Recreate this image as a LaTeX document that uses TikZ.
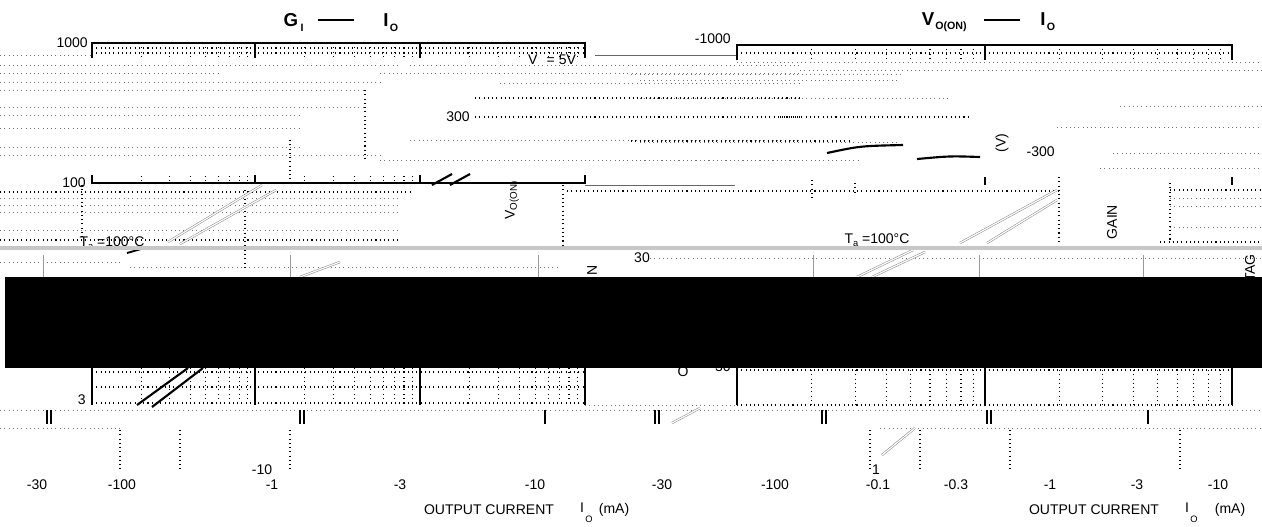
\documentclass[tikz,border=0pt]{standalone}
\usepackage{fontspec}
\setmainfont{Liberation Sans}
\tikzset{
 frm/.style={line width=1.1pt},
 dk/.style={line width=0.8pt, dash pattern=on 0.8pt off 2.4pt},
 fnt/.style={line width=0.5pt, dash pattern=on 0.6pt off 2.6pt, black!55},
 lbl/.style={font=\fontsize{10.5}{12}\selectfont, inner sep=0pt},
 sublbl/.style={font=\fontsize{7}{8}\selectfont, inner sep=0pt},
 ttl/.style={font=\fontsize{14}{16}\selectfont\bfseries, inner sep=0pt},
 ttlsub/.style={font=\fontsize{8}{9}\selectfont\bfseries, inner sep=0pt},
 dbl/.style={draw=black!45, double=white, double distance=0.9pt, line width=0.4pt},
 crv/.style={line width=1.6pt},
}
\newcommand\minorv[5]{\foreach \k in {2,...,9}{\draw[#5] ({#1+#2*ln(\k)/ln(10)},#3) -- ({#1+#2*ln(\k)/ln(10)},#4);}}
\begin{document}
\begin{tikzpicture}[x=0.75pt,y=-0.75pt]
\useasboundingbox (0,0) rectangle (1262,526);
% ---------- titles
\node[ttl] (tG) at (291,20) {G};
\node[ttlsub] (tGs) at (302,28) {I};
\draw[line width=1.3pt] (318,20) -- (354,20);
\node[ttl] (tI) at (386,20) {I};
\node[ttlsub] (tIs) at (394,28) {O};
\node[ttl] (tV) at (928,19) {V};
\node[ttlsub] (tVs) at (951,27) {O(ON)};
\draw[line width=1.3pt] (984,20) -- (1020,20);
\node[ttl] (tI2) at (1043,19) {I};
\node[ttlsub] (tI2s) at (1051,27) {O};
% ---------- faint rows of the glitched middle
\foreach \y/\a/\b in {55/0/92,65/0/400,65/410/800,73/0/220,73/380/800,82/0/380,83/500/800,90/0/365,
  107/0/365,115/0/300,128/0/300,140/410/800,147/0/300,155/0/380,160/380/800,
  62/737/1262,70/800/1262,74/631/900,80/640/900,98/640/950,106/1120/1262,127/1057/1262,
  142/640/900,153/1113/1262,160/640/860,168/1100/1262,
  198/0/400,205/0/400,212/0/400,230/0/400,198/1170/1262,206/1170/1262,227/1170/1262,
  258/650/1262,267/130/560,262/0/120,405/585/737,410/0/1262,428/0/120,428/880/1262}
  {\draw[fnt] (\a,\y) -- (\b,\y);}
\foreach \y/\a/\b in {98/475/800,117/475/800,117/780/970,141/631/850,192/0/410,191/567/1060,190/1170/1262,240/0/400,242/1160/1262}
  {\draw[dk] (\a,\y) -- (\b,\y);}
\draw[line width=0.4pt, black!60] (595,55) -- (737,55);
\draw[line width=0.4pt, black!60] (585,185) -- (735,185);
\foreach \x/\a/\b in {365/90/160,290/140/180,82/185/240,245/190/270,563/185/245,812/180/200,855/183/193,1059/177/245,1170/183/240,
  120/430/470,180/430/470,290/430/470,870/430/470,920/430/470,1010/430/470,1180/430/470}
  {\draw[dk] (\x,\a) -- (\x,\b);}
\foreach \x in {43,290,538,813,979,1143}{\draw[line width=0.5pt, black!40] (\x,255) -- (\x,277);}
% ---------- left top strip
\draw[frm] (92,58) -- (92,43) -- (585,43) -- (585,58);
\draw[frm] (255,43) -- (255,58) (420,43) -- (420,58);
\draw[dk] (92,48) -- (585,48) (92,53) -- (585,53);
\minorv{92}{163}{43}{57}{dk}
\minorv{255}{165}{43}{57}{dk}
\minorv{420}{165}{43}{57}{dk}
% ---------- right top strip
\draw[frm] (737,60) -- (737,45) -- (1232,45) -- (1232,60);
\draw[frm] (985,45) -- (985,60);
\draw[dk] (737,53) -- (1232,53);
\minorv{737}{248}{45}{58}{dk}
\minorv{985}{247}{45}{58}{dk}
% ---------- left "100" frame row
\draw[frm] (92,175) -- (92,183) -- (585,183) -- (585,175);
\draw[frm] (255,175) -- (255,183) (420,175) -- (420,183);
\minorv{92}{163}{176}{181}{dk}
\minorv{255}{165}{176}{181}{dk}
\draw[crv] (432,185) -- (452,174) (450,185) -- (470,174);
\draw[frm] (985,177) -- (985,185) (1232,177) -- (1232,185);
% ---------- curves
\draw[crv] (827,153) .. controls (860,146) .. (903,145);
\draw[crv] (917,159) .. controls (950,156) .. (980,157);
\draw[dbl] (168,242) -- (262,185);
\draw[dbl] (180,244) -- (276,190);
\draw[dbl] (960,243) -- (1057,190);
\draw[dbl] (987,243) -- (1057,200);
\draw[dbl] (857,277) -- (913,250);
\draw[dbl] (872,277) -- (925,252);
\draw[dbl] (300,277) -- (340,262);
\draw[dbl] (672,423) -- (700,408);
\draw[dbl] (882,455) -- (915,428);
\draw[line width=1.4pt] (127,253) -- (148,247);
% ---------- labels in the middle
\node[lbl, anchor=east] (l1000) at (88,43) {1000};
\node[lbl, anchor=east] (l100) at (86,183) {100};
\node[lbl, anchor=east] (l300) at (470,117) {300};
\node[lbl, anchor=east] (lm1000) at (731,39) {-1000};
\node[lbl, anchor=east] (lm300) at (1055,152) {-300};
\node[lbl] (l30) at (642,258) {30};
\node[lbl] (lV5) at (552,60) {V\,\,\,\,= 5V};
\node[lbl, rotate=90] (lvon) at (512,200) {V\textsubscript{O(ON)}};
\node[lbl, rotate=90] (lvv) at (1002,143) {(V)};
\node[lbl, rotate=90] (lgain) at (1112,222) {GAIN};
\node[lbl, rotate=90] (ltag) at (1250,268) {TAG};
\node[lbl, rotate=90] (ln) at (592,270) {N};
\node[lbl] (lta1) at (112,243) {T\raisebox{-0.4ex}{\scriptsize a} =100°C};
\node[lbl] (lta2) at (877,240) {T\raisebox{-0.4ex}{\scriptsize a} =100°C};
\node[lbl, anchor=east] (lm30) at (731,367) {-30};
% ---------- gray band and black band
\draw[line width=2.4pt, black!22] (0,248) -- (1262,248);
\fill[black] (5,277) rectangle (1262,368);
% ---------- lower frames
\draw[frm] (92,368) -- (92,405) (255,368) -- (255,405) (420,368) -- (420,405) (585,368) -- (585,405);
\draw[dk] (92,372) -- (585,372) (92,387) -- (585,387) (92,403) -- (585,403);
\minorv{92}{163}{368}{402}{dk}
\minorv{255}{165}{368}{402}{dk}
\minorv{420}{165}{368}{402}{dk}
\draw[crv] (188,368) -- (137,405) (203,368) -- (152,407);
\draw[frm] (737,368) -- (737,405) (985,368) -- (985,405) (1232,368) -- (1232,405);
\draw[dk] (737,370) -- (1232,370) (737,405) -- (1232,405);
\minorv{737}{248}{370}{405}{dk}
\minorv{985}{247}{370}{405}{dk}
\node[lbl, anchor=east] (l3) at (86,400) {3};
\node[lbl] (lO) at (683,372) {O};
% ---------- double ticks below
\foreach \x in {47,300,655,822,987}{\draw[line width=0.9pt] (\x,410) -- (\x,424) (\x+4,410) -- (\x+4,424);}
\foreach \x in {545,1148}{\draw[line width=0.9pt] (\x,410) -- (\x,424);}
% ---------- axis labels
\node[lbl] (lm10s) at (262,470) {-10};
\node[lbl] (l1s) at (876,470) {1};
\foreach \x/\t [count=\i] in {37/-30,122/-100,272/-1,400/-3,535/-10,662/-30,775/-100,878/-0.1,956/-0.3,1050/-1,1137/-3,1218/-10}
  {\node[lbl] (xt\i) at (\x,485) {\t};}
\node[lbl] (oc1) at (489,510) {OUTPUT CURRENT};
\node[lbl] (oc1i) at (582,508) {I};
\node[sublbl] (oc1o) at (589,519) {O};
\node[lbl] (oc1m) at (614,510) {(mA)};
\node[lbl] (oc2) at (1094,510) {OUTPUT CURRENT};
\node[lbl] (oc2i) at (1187,508) {I};
\node[sublbl] (oc2o) at (1194,519) {O};
\node[lbl] (oc2m) at (1230,510) {(mA)};
\end{tikzpicture}
\end{document}
